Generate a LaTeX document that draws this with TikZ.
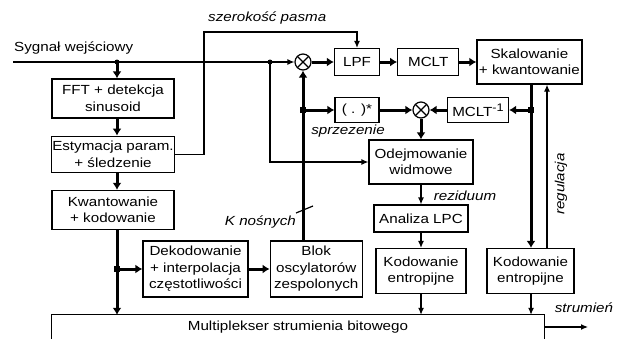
\documentclass[tikz,border=0pt]{standalone}
\usepackage{fontspec}
\setmainfont{Liberation Sans}[FakeStretch=1.15]
\usetikzlibrary{positioning, arrows.meta}

\begin{document}
\begin{tikzpicture}[
    x=1bp, y=-1bp,
    font=\fontsize{13.2bp}{16.5bp}\selectfont,
    node distance=17bp and 17bp,
    block/.style={rectangle, draw, line width=1.2bp, align=center, inner sep=1bp},
    mult/.style={circle, draw, line width=1.2bp, minimum size=16bp, inner sep=0pt,
      path picture={\draw [line width=1.2bp]
        (path picture bounding box.north west) -- (path picture bounding box.south east)
        (path picture bounding box.north east) -- (path picture bounding box.south west);}},
    flow/.style={line width=1.2bp, -{Latex[length=7bp,width=6bp]}},
    bus/.style={line width=3bp, -{Latex[length=7bp,width=9bp]}},
    lab/.style={font=\fontsize{13.2bp}{16.5bp}\selectfont\itshape, inner sep=1bp},
    tap/.style={circle, fill, inner sep=0pt, minimum size=5bp},
    tapsq/.style={rectangle, fill, inner sep=0pt, minimum size=6bp}]

  \useasboundingbox (0,0) rectangle (620,338);

  % left column: sinusoid analysis
  \node (fft) [block, minimum width=122bp, minimum height=39bp] at (113,98.5) {FFT + detekcja\\sinusoid};
  \node (est) [block, minimum width=122bp, minimum height=36bp, below=of fft] {Estymacja param.\\+ śledzenie};
  \node (kw) [block, minimum width=122bp, minimum height=39bp, below=of est] {Kwantowanie\\+ kodowanie};
  \node (dek) [block, minimum width=105bp, minimum height=56bp] at (195.5,269) {Dekodowanie\\+ interpolacja\\częstotliwości};
  \node (blok) [block, minimum width=92bp, minimum height=56bp, right=21bp of dek] {Blok\\oscylatorów\\zespolonych};

  % top row: residual transform path
  \node (m1) [mult] at (303,62) {};
  \node (lpf) [block, minimum width=45bp, minimum height=27bp] at (357,62) {LPF};
  \node (mclt) [block, minimum width=61bp, minimum height=27bp, right=of lpf] {MCLT};
  \node (skal) [block, minimum width=105bp, minimum height=44bp, right=of mclt] {Skalowanie\\+ kwantowanie};

  % synthesis / subtraction
  \node (conj) [block, minimum width=44bp, minimum height=25bp] at (357,110) {( . )*};
  \node (m2) [mult] at (421,110) {};
  \node (mclti) [block, minimum width=61bp, minimum height=25bp] at (478,110)
    {MCLT\raisebox{5bp}{\fontsize{11bp}{11bp}\selectfont -1}};
  \node (odej) [block, minimum width=104bp, minimum height=44bp] at (421,162) {Odejmowanie\\widmowe};
  \node (lpc) [block, minimum width=94bp, minimum height=27bp] at (421,218.5) {Analiza LPC};
  \node (kod1) [block, minimum width=90bp, minimum height=45bp] at (421,271) {Kodowanie\\entropijne};
  \node (kod2) [block, minimum width=87bp, minimum height=45bp] at (530.5,271) {Kodowanie\\entropijne};

  % multiplexer (cut off at the bottom)
  \node (mux) [minimum width=492bp, minimum height=24bp, inner sep=0pt] at (298,327) {Multiplekser strumienia bitowego};
  \draw [line width=1.2bp] (mux.south west) -- (mux.north west) -- (mux.north east) -- (mux.south east);

  % branch points
  \coordinate (in) at (13,62);
  \coordinate (out) at (588,327);
  \coordinate (bw) at (204,32);
  \coordinate (j1) at (117,62);
  \coordinate (j2) at (270,62);
  \coordinate (j3) at (117,269);
  \coordinate (j4) at (303,110);
  \coordinate (j5) at (531,110);
  \coordinate (reg) at (547,0);

  % input signal
  \draw [flow] (in) -- (m1.west);
  \node (sig) [anchor=south west, inner sep=1bp] at (13,55) {Sygnał wejściowy};
  \draw [bus] (j1) -- (j1 |- fft.north);
  \draw [bus] (j1 |- fft.south) -- (j1 |- est.north);
  \draw [bus] (j1 |- est.south) -- (j1 |- kw.north);
  \draw [bus] (j1 |- kw.south) -- (j1 |- mux.north);
  \draw [bus] (j3) -- (dek.west);
  \draw [bus] (dek.east) -- (blok.west);
  \draw [bus] (blok.north -| m1) -- (m1.south);
  \draw [bus] (j4) -- (conj.west);
  \draw [line width=1.2bp] (296,213) -- (313,206);
  \node (kn) [lab, anchor=east] at (297,222) {K nośnych};

  % bandwidth control
  \draw [flow] (est.east) -- (est.east -| bw) -- (bw) -- (bw -| lpf) -- (lpf.north);
  \node (bwl) [lab, anchor=south west] at (207,25) {szerokość pasma};

  % transform chain
  \draw [bus] (m1.east) -- (lpf.west);
  \draw [bus] (lpf.east) -- (mclt.west);
  \draw [bus] (mclt.east) -- (skal.west);
  \draw [bus] (skal.south -| j5) -- (kod2.north -| j5);
  \draw [bus] (j5) -- (mclti.east);
  \draw [bus] (mclti.west) -- (m2.east);
  \draw [bus] (conj.east) -- (m2.west);
  \node (sprz) [lab] at (348,131) {sprzezenie};
  \draw [bus] (m2.south) -- (odej.north);
  \draw [flow] (j2) |- (odej.west);

  % residual coding
  \draw [flow] (odej.south) -- (lpc.north);
  \node (rez) [lab] at (465,196) {reziduum};
  \draw [flow] (lpc.south) -- (kod1.north);
  \draw [flow] (kod1.south) -- (kod1.south |- mux.north);
  \draw [flow] (kod2.south -| j5) -- (j5 |- mux.north);
  \draw [flow] (kod2.north -| reg) -- (skal.south -| reg);
  \node (regl) [lab, rotate=90] at (561,184) {regulacja};

  % output
  \draw [flow] (mux.east |- out) -- (out);
  \node (str) [lab] at (584,308) {strumień};

  % branch markers
  \node (t1) [tap] at (j1) {};
  \node (t2) [tap] at (j2) {};
  \node (t3) [tapsq] at (j3) {};
  \node (t4) [tapsq] at (j4) {};
  \node (t5) [tapsq] at (j5) {};
\end{tikzpicture}
\end{document}
